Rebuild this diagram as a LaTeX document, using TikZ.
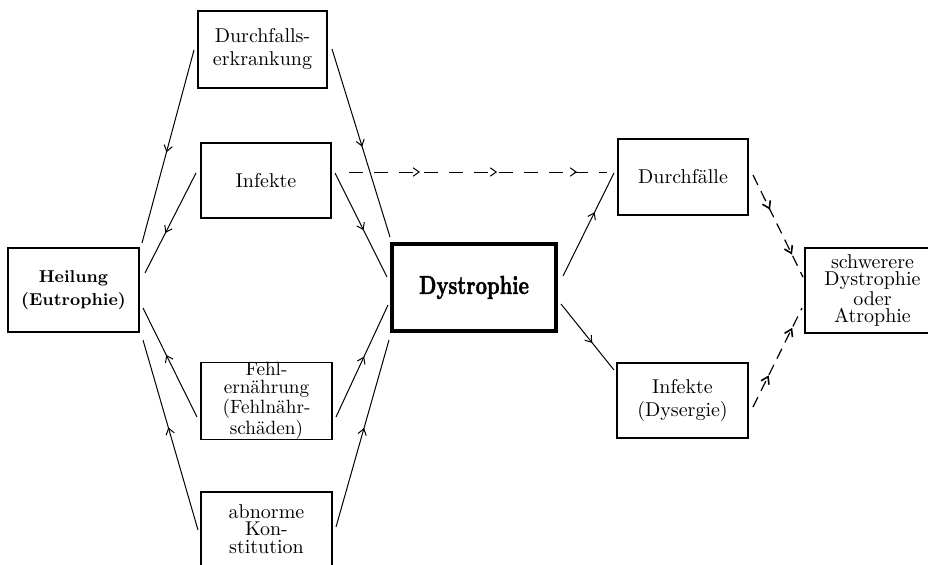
\documentclass[tikz,border=0pt]{standalone}
\usepackage{fontspec}
\newfontfamily\dysfont[Extension=.otf, FakeStretch=0.76, FakeBold=1.5]{lmroman10-bold}
\usetikzlibrary{arrows.meta,decorations.markings,calc}
\tikzset{
  box/.style={draw, line width=0.6pt, inner sep=0pt, outer sep=0pt, align=center,
    font=\fontsize{10}{11.5}\selectfont},
  conn/.style={line width=0.5pt},
  dconn/.style={line width=0.6pt, dash pattern=on 5.5pt off 3.5pt},
  hconn/.style={line width=0.5pt, dash pattern=on 7pt off 5.5pt},
  mytip/.tip={Straight Barb[length=3pt,width=4.2pt,line width=0.5pt]},
  mytipb/.tip={Straight Barb[length=3.4pt,width=4.4pt,line width=0.8pt]},
  am/.style={postaction={decorate,decoration={markings,mark=at position #1 with {\arrow{mytip}}}}},
  amb/.style={postaction={decorate,decoration={markings,mark=at position #1 with {\arrow{mytipb}}}}},
}
\begin{document}
\begin{tikzpicture}[x=0.5pt,y=-0.5pt]
\useasboundingbox (0,0) rectangle (928,564);
\clip (0,0) rectangle (928,564);
% boxes
\node[box, minimum width=64.5pt, minimum height=38.5pt] (dfe) at (262.5,49.5) {Durchfalls-\\erkrankung};
\node[box, minimum width=65pt, minimum height=37.5pt] (infL) at (266,180.5) {Infekte};
\node[box, minimum width=65.5pt, minimum height=42pt, font=\fontsize{8.6}{11.5}\selectfont\bfseries] (heil) at (73.5,290) {Heilung\\(Eutrophie)};
\node[box, minimum width=65.5pt, minimum height=38pt, font=\fontsize{9.6}{8.6}\selectfont] (fehl) at (266.5,401) {Fehl-\\ern\"ahrung\\(Fehln\"ahr-\\sch\"aden)};
\node[box, minimum width=65.5pt, minimum height=37pt, font=\fontsize{10}{8.8}\selectfont] (abn) at (266.5,529) {abnorme\\Kon-\\stitution};
\node[box, line width=2pt, minimum width=82pt, minimum height=43.5pt, font=\fontsize{13}{13}\dysfont] (dys) at (474,287.5) {Dystrophie};
\node[box, minimum width=65pt, minimum height=38pt] (dfa) at (683,177) {Durchf\"alle};
\node[box, minimum width=65.5pt, minimum height=37.5pt] (infR) at (682.5,400.5) {Infekte\\(Dysergie)};
\node[box, minimum width=67.5pt, minimum height=42.5pt, font=\fontsize{10}{8.7}\selectfont] (sch) at (872.5,290.5) {schwerere\\Dystrophie\\oder\\Atrophie};
% connectors, left side
\draw[conn, am=0.53] ($(dfe.west)+(-4,0.5)$) -- ($(heil.north east)+(3,-5)$);
\draw[conn, am=0.6] ($(infL.west)+(-5,-7.5)$) -- ($(heil.east)+(6,-17)$);
\draw[conn, am=0.57] ($(fehl.west)+(-4,16)$) -- ($(heil.east)+(4,18)$);
\draw[conn, am=0.54] ($(abn.west)+(-3,1)$) -- ($(heil.south east)+(4,8)$);
% connectors to Dystrophie
\draw[conn, am=0.52] ($(dfe.east)+(5,-0.5)$) -- ($(dys.north west)+(-2,-7)$);
\draw[conn, am=0.55] ($(infL.east)+(4,-7.5)$) -- ($(dys.west)+(-5,-10.5)$);
\draw[conn, am=0.54] ($(fehl.east)+(4,16)$) -- ($(dys.west)+(-4,17.5)$);
\draw[conn, am=0.53] ($(abn.east)+(4,-2)$) -- ($(dys.south west)+(-3,9)$);
% dashed Infekte -> Durchfaelle
\draw[hconn, am=0.275, am=0.574, am=0.884] ($(infL.east)+(18,-8.5)$) -- ($(dfa.west)+(-11,-5)$);
% right side
\draw[conn, am=0.62] ($(dys.east)+(7,-11.5)$) -- ($(dfa.west)+(-4,-4)$);
\draw[conn, am=0.59] ($(dys.east)+(5,16.5)$) -- ($(infR.west)+(-3,-30.5)$);
\draw[dconn, amb=0.34, amb=0.78] ($(dfa.east)+(5,-2)$) -- ($(sch.west)+(-2,-13.5)$);
\draw[dconn, amb=0.32, amb=0.8] ($(infR.east)+(5,6.5)$) -- ($(sch.west)+(-3,17.5)$);
\end{tikzpicture}
\end{document}
